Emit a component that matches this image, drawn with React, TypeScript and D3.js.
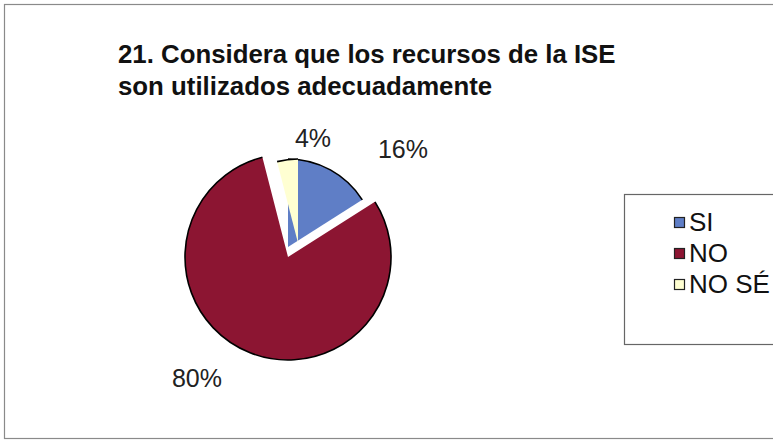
import React, { useEffect } from 'react';
import * as d3 from 'd3';

const categories = ['SI', 'NO', 'NO SÉ'];
const values = [16, 80, 4];
const valueLabels = ['16%', '80%', '4%'];
const titleLines = ['21. Considera que los recursos de la ISE', 'son utilizados adecuadamente'];

const colors = ['#5F7EC6', '#8C1532', '#FFFFD2'];
// layout per slice (exploded centres and radii)
const sliceCx = [288, 288, 298];
const sliceCy = [247, 257, 243];
const sliceR = [88, 103, 84];
const labelX = [403, 197, 313];
const labelY = [158, 387, 147];

const FONT = '"Liberation Sans", Arial, sans-serif';

export default function App() {
  useEffect(() => {
    document.body.style.margin = '0';
  }, []);

  const pie = d3.pie<number>().sort(null).value((d) => d);
  const arcs = pie(values);

  const slicePath = (i: number) => {
    const a = arcs[i];
    return d3.arc<any>().innerRadius(0).outerRadius(sliceR[i])(a) || '';
  };
  const rimPath = (i: number) => {
    const a = arcs[i];
    const p = d3.path();
    p.arc(0, 0, sliceR[i], a.startAngle - Math.PI / 2, a.endAngle - Math.PI / 2);
    return p.toString();
  };

  // drawing order: NO, SI, then NO SÉ on top
  const order = [1, 0, 2];

  return (
    <svg width={773} height={441} style={{ display: 'block', background: '#fff' }} fontFamily={FONT}>
      <rect x={0} y={0} width={773} height={441} fill="#fff" />
      <rect x={4.5} y={4.5} width={800} height={434} fill="none" stroke="#8a8a8a" strokeWidth={1.2} />
      {titleLines.map((t, i) => (
        <text key={i} x={118} y={63 + i * 32} fontSize={25.8} fontWeight="bold" fill="#111">
          {t}
        </text>
      ))}
      {order.map((i) => (
        <g key={i} transform={`translate(${sliceCx[i]},${sliceCy[i]})`}>
          <path d={slicePath(i)} fill={colors[i]} stroke="none" />
          <path d={rimPath(i)} fill="none" stroke="#000" strokeWidth={1.6} />
        </g>
      ))}
      {valueLabels.map((l, i) => (
        <text key={i} x={labelX[i]} y={labelY[i]} fontSize={25} textAnchor="middle" fill="#222">
          {l}
        </text>
      ))}
      <rect x={624.5} y={194.5} width={200} height={150} fill="#fff" stroke="#666" strokeWidth={1.2} />
      {categories.map((c, i) => (
        <g key={c}>
          <rect x={674.5} y={217.5 + i * 31} width={10} height={10} fill={colors[i]} stroke="#222" strokeWidth={1.2} />
          <text x={689} y={231 + i * 31} fontSize={26} fill="#111">
            {c}
          </text>
        </g>
      ))}
    </svg>
  );
}
